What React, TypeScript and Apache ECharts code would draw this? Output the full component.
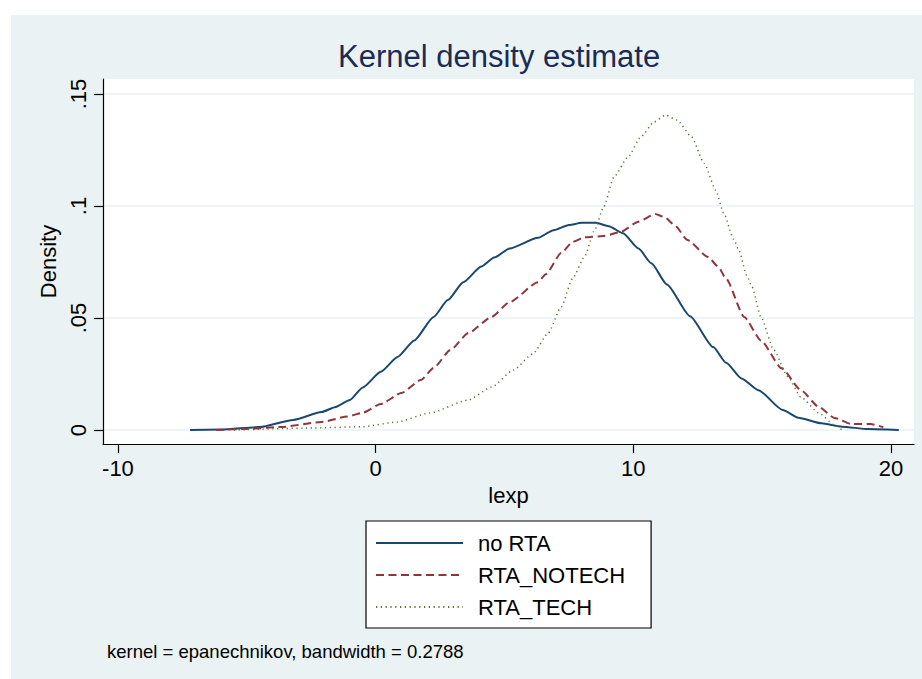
import React, { useEffect, useRef } from "react";
import * as echarts from "echarts";

const seriesNames = ["no RTA", "RTA_NOTECH", "RTA_TECH"];

const noRTA: [number, number][] = [
  [-7.2, 0], [-6, 0.0002], [-4.5, 0.0013], [-3.2, 0.0045], [-2.1, 0.008], [-1.55, 0.0103],
  [-1.0, 0.0134], [-0.5, 0.019], [0.2, 0.026], [0.85, 0.0326], [1.5, 0.04], [2.25, 0.0505],
  [2.8, 0.058], [3.4, 0.066], [4.1, 0.073], [4.6, 0.077], [5.2, 0.081], [6.3, 0.0858],
  [6.9, 0.0892], [7.5, 0.0915], [8.0, 0.0925], [8.55, 0.0925], [9.05, 0.091], [9.6, 0.0878],
  [10.2, 0.081], [10.7, 0.0744], [11.3, 0.065], [12.2, 0.0508], [13.1, 0.037], [13.6, 0.03],
  [14.2, 0.023], [14.85, 0.0178], [15.8, 0.0089], [16.4, 0.0055], [17.3, 0.003], [18.1, 0.0015],
  [19.1, 0.0004], [20.3, 0],
];

const rtaNotech: [number, number][] = [
  [-6.2, 0], [-5, 0.0005], [-3.7, 0.0013], [-2.1, 0.0036], [-1.1, 0.006], [-0.5, 0.0077],
  [0.2, 0.0116], [1.0, 0.0165], [1.75, 0.0223], [2.25, 0.0277], [2.9, 0.0357], [3.6, 0.0433],
  [4.5, 0.0505], [5.2, 0.0571], [6.3, 0.066], [6.6, 0.0695], [7.2, 0.079], [7.65, 0.084],
  [8.1, 0.086], [8.85, 0.0866], [9.5, 0.0884], [10.2, 0.093], [10.85, 0.0964], [11.2, 0.0951],
  [11.6, 0.0915], [12.1, 0.0848], [12.9, 0.0772], [13.3, 0.0728], [13.6, 0.0675], [14.3, 0.0505],
  [14.95, 0.04], [15.75, 0.0276], [16.5, 0.0178], [17.2, 0.0103], [17.8, 0.0054], [18.45, 0.0027],
  [19.2, 0.0027], [19.7, 0.0013],
];

const rtaTech: [number, number][] = [
  [-5.5, 0], [-2.4, 0.0009], [-0.5, 0.0015], [0.85, 0.0036], [2.1, 0.0076], [3.6, 0.0134],
  [4.5, 0.0192], [5.35, 0.0268], [6.1, 0.034], [6.7, 0.0433], [7.2, 0.055], [7.65, 0.0678],
  [8.1, 0.0772], [8.5, 0.0893], [8.85, 0.0996], [9.25, 0.113], [9.8, 0.122], [10.3, 0.131],
  [10.8, 0.1375], [11.25, 0.1406], [11.7, 0.1384], [12.25, 0.131], [12.75, 0.119], [13.2, 0.107],
  [13.5, 0.097], [13.9, 0.085], [14.1, 0.08], [14.4, 0.069], [14.6, 0.064], [14.95, 0.0505],
  [15.45, 0.0357], [16.0, 0.0237], [16.5, 0.0147], [17.2, 0.0076], [17.8, 0.0022], [18.1, 0],
];

const xTicks = [-10, 0, 10, 20];
const yTicks = [0, 0.05, 0.1, 0.15];

const FONT = "'Liberation Sans', Arial, Helvetica, sans-serif";

export default function App() {
  const ref = useRef<HTMLDivElement>(null);
  useEffect(() => {
    if (!ref.current) return;
    const chart = echarts.init(ref.current, null, { renderer: "svg" });
    const fmtY = (v: number) => (v === 0 ? "0" : String(v).replace(/^0/, ""));
    chart.setOption({
      animation: false,
      backgroundColor: "#eaf2f3",
      title: {
        text: "Kernel density estimate",
        left: 327,
        top: 26,
        padding: 0,
        textStyle: { fontFamily: FONT, fontSize: 31, fontWeight: "normal", color: "#1c2b54" },
      },
      grid: {
        left: 92,
        top: 64,
        right: 8,
        bottom: 235,
        show: true,
        backgroundColor: "#ffffff",
        borderWidth: 0,
      },
      xAxis: {
        type: "value",
        min: -10.58,
        max: 20.89,
        name: "lexp",
        nameLocation: "middle",
        nameGap: 40,
        nameTextStyle: { fontFamily: FONT, fontSize: 22, color: "#000" },
        axisLine: { show: true, onZero: false, lineStyle: { color: "#000", width: 1.2 } },
        axisTick: { show: true, inside: false, length: 9, customValues: xTicks, lineStyle: { color: "#000", width: 1.2 } },
        axisLabel: { customValues: xTicks, fontFamily: FONT, fontSize: 22, color: "#000", margin: 13 },
        splitLine: { show: false },
      },
      yAxis: {
        type: "value",
        min: -0.00625,
        max: 0.1567,
        name: "Density",
        nameLocation: "middle",
        nameGap: 42,
        nameTextStyle: { fontFamily: FONT, fontSize: 22, color: "#000" },
        axisLine: { show: true, onZero: false, lineStyle: { color: "#000", width: 1.2 } },
        axisTick: { show: true, inside: false, length: 9, customValues: yTicks, lineStyle: { color: "#000", width: 1.2 } },
        axisLabel: {
          customValues: yTicks,
          rotate: 90,
          fontFamily: FONT,
          fontSize: 22,
          color: "#000",
          margin: 14,
          formatter: fmtY,
        },
        splitLine: { show: true, lineStyle: { color: "#eaf2f3", width: 1.5 } },
      },
      legend: {
        orient: "vertical",
        left: 355,
        top: 506,
        padding: [9, 26, 8, 9],
        itemWidth: 87,
        itemHeight: 14,
        itemGap: 6,
        backgroundColor: "#ffffff",
        borderColor: "#000",
        borderWidth: 1.2,
        borderRadius: 0,
        data: seriesNames,
        itemStyle: { opacity: 0 },
        textStyle: { fontFamily: FONT, fontSize: 22, color: "#000", lineHeight: 26, padding: [0, 0, 0, 10] },
      },
      graphic: [
        {
          type: "text",
          left: 96,
          top: 627,
          style: {
            text: "kernel = epanechnikov, bandwidth = 0.2788",
            font: `18.5px ${FONT}`,
            fill: "#000",
          },
        },
      ],
      series: [
        {
          name: seriesNames[0],
          type: "line",
          data: noRTA,
          symbol: "none",
          smooth: 0.2,
          smoothMonotone: "x",
          lineStyle: { color: "#1a476f", width: 2 },
          itemStyle: { color: "#1a476f" },
        },
        {
          name: seriesNames[1],
          type: "line",
          data: rtaNotech,
          symbol: "none",
          smooth: 0.2,
          smoothMonotone: "x",
          lineStyle: { color: "#90353b", width: 2, type: [8, 4.5] },
          itemStyle: { color: "#90353b" },
        },
        {
          name: seriesNames[2],
          type: "line",
          data: rtaTech,
          symbol: "none",
          smooth: 0.2,
          smoothMonotone: "x",
          lineStyle: { color: "#55752f", width: 1.5, type: [1.2, 3.6] },
          itemStyle: { color: "#55752f" },
        },
      ],
    });
    return () => chart.dispose();
  }, []);
  return (
    <div style={{ position: "fixed", left: 0, top: 0, width: 922, height: 679, background: "#ffffff" }}>
      <div ref={ref} style={{ position: "absolute", left: 11, top: 15, width: 911, height: 664 }} />
    </div>
  );
}
